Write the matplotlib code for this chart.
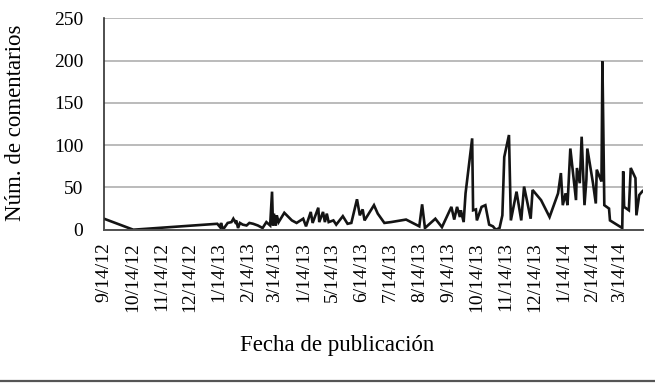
import numpy as np
import pandas as pd
import matplotlib
matplotlib.use('Agg')
import matplotlib.pyplot as plt
import matplotlib.dates as mdates
from matplotlib.lines import Line2D

# dates of the comments and number of comments
fechas = ['2012-09-14', '2012-10-15', '2013-01-12', '2013-01-15', '2013-01-16',
          '2013-01-18', '2013-01-23', '2013-01-27', '2013-01-29', '2013-01-31',
          '2013-02-01', '2013-02-03', '2013-02-05', '2013-02-08', '2013-02-12',
          '2013-02-15', '2013-02-19', '2013-02-24', '2013-03-01', '2013-03-05',
          '2013-03-09', '2013-03-11', '2013-03-12', '2013-03-13', '2013-03-15',
          '2013-03-16', '2013-03-18', '2013-03-24', '2013-04-01', '2013-04-06',
          '2013-04-13', '2013-04-16', '2013-04-21', '2013-04-23', '2013-04-29',
          '2013-04-30', '2013-05-04', '2013-05-06', '2013-05-08', '2013-05-10',
          '2013-05-15', '2013-05-18', '2013-05-25', '2013-05-30', '2013-06-03',
          '2013-06-09', '2013-06-12', '2013-06-15', '2013-06-17', '2013-06-27',
          '2013-07-01', '2013-07-08', '2013-07-15', '2013-07-31', '2013-08-14',
          '2013-08-17', '2013-08-20', '2013-08-31', '2013-09-07', '2013-09-17',
          '2013-09-20', '2013-09-23', '2013-09-26', '2013-09-27', '2013-09-30',
          '2013-10-02', '2013-10-09', '2013-10-10', '2013-10-13', '2013-10-14',
          '2013-10-19', '2013-10-23', '2013-10-27', '2013-10-31', '2013-11-03',
          '2013-11-07', '2013-11-10', '2013-11-12', '2013-11-17', '2013-11-19',
          '2013-11-25', '2013-11-30', '2013-12-03', '2013-12-10', '2013-12-12',
          '2013-12-21', '2013-12-30', '2014-01-08', '2014-01-11', '2014-01-13',
          '2014-01-16', '2014-01-18', '2014-01-21', '2014-01-27', '2014-01-28',
          '2014-01-31', '2014-02-02', '2014-02-05', '2014-02-07', '2014-02-08',
          '2014-02-14', '2014-02-17', '2014-02-18', '2014-02-23', '2014-02-24',
          '2014-02-26', '2014-03-03', '2014-03-04', '2014-03-17', '2014-03-18',
          '2014-03-19', '2014-03-24', '2014-03-26', '2014-03-31', '2014-04-01',
          '2014-04-04', '2014-04-07', '2014-04-09']
comentarios = [13, 0, 7, 3, 8,
               0, 8, 9, 13, 9,
               11, 2, 8, 6, 5,
               8, 7, 5, 2, 9,
               5, 45, 5, 19, 5,
               17, 9, 20, 11, 8,
               13, 4, 21, 8, 26,
               9, 21, 9, 19, 9,
               11, 6, 16, 7, 8,
               36, 17, 24, 11, 29,
               19, 8, 9, 12, 4,
               30, 2, 13, 3, 27,
               12, 27, 15, 23, 9,
               43, 108, 23, 24, 11,
               27, 29, 6, 4, 0,
               2, 17, 86, 112, 11,
               45, 11, 51, 13, 47,
               35, 15, 43, 67, 29,
               43, 29, 96, 35, 73,
               55, 110, 29, 59, 96,
               55, 31, 71, 57, 199,
               29, 25, 11, 2, 69,
               27, 23, 73, 61, 17,
               41, 45, 47]

tick_fechas = ['2012-09-14', '2012-10-14', '2012-11-14', '2012-12-14', '2013-01-14',
               '2013-02-14', '2013-03-14', '2013-04-14', '2013-05-14', '2013-06-14',
               '2013-07-14', '2013-08-14', '2013-09-14', '2013-10-14', '2013-11-14',
               '2013-12-14', '2014-01-14', '2014-02-14', '2014-03-14']
tick_labels = ['9/14/12', '10/14/12', '11/14/12', '12/14/12', '1/14/13',
               '2/14/13', '3/14/13', '1/14/13', '5/14/13', '6/14/13',
               '7/14/13', '8/14/13', '9/14/13', '10/14/13', '11/14/13',
               '12/14/13', '1/14/14', '2/14/14', '3/14/14']

plt.rcParams['font.family'] = ['Liberation Serif', 'DejaVu Serif']

fig = plt.figure(figsize=(6.55, 3.86), dpi=100)
ax = fig.add_axes([0.1588, 0.4049, 0.8229, 0.5477])

x = pd.to_datetime(fechas)
ax.plot(x, comentarios, color='#141414', lw=1.9, solid_joinstyle='miter')

ax.set_ylim(0, 250)
ax.set_yticks([0, 50, 100, 150, 200, 250])
ax.set_xlim(pd.Timestamp('2012-09-14'), pd.Timestamp('2014-04-08'))
ax.set_xticks(pd.to_datetime(tick_fechas))
ax.set_xticklabels(tick_labels, rotation=90, va='top', ha='center')

ax.grid(axis='y', color='#a8a8a8', lw=1.1)
ax.set_axisbelow(True)
for s in ['top', 'right']:
    ax.spines[s].set_visible(False)
ax.spines['left'].set_color('#303030')
ax.spines['left'].set_linewidth(1.2)
ax.spines['bottom'].set_color('#505050')
ax.spines['bottom'].set_linewidth(1.4)
ax.tick_params(axis='y', length=0, pad=15, labelsize=14)
ax.tick_params(axis='x', length=0, pad=9, labelsize=14)

fig.text(0.024, 0.683, 'Núm. de comentarios', rotation=90, fontsize=16.5,
         ha='center', va='center')
fig.text(0.514, 0.106, 'Fecha de publicación', fontsize=16.5,
         ha='center', va='center')

# bottom rule under the figure
fig.add_artist(Line2D([0, 1], [1 - 381 / 386, 1 - 381 / 386], color='#555555',
                      lw=1.6, transform=fig.transFigure))

fig.savefig('out.png', dpi=100)
